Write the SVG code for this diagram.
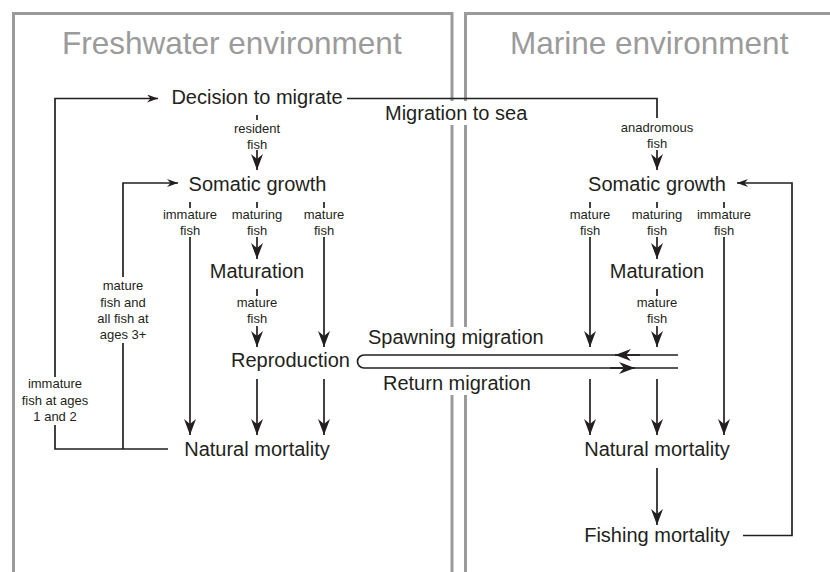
<svg xmlns="http://www.w3.org/2000/svg" width="830" height="572" viewBox="0 0 830 572">
<defs>
<style>
.env{fill:none;stroke:#9b9b9b;stroke-width:3}
.ttl{font-family:"Liberation Sans",Arial,Helvetica,sans-serif;font-size:31.5px;fill:#9b9b9b}
.lbl{font-family:"Liberation Sans",Arial,Helvetica,sans-serif;font-size:20px;fill:#231f20;text-anchor:middle}
.st{text-anchor:start}
.sm{font-family:"Liberation Sans",Arial,Helvetica,sans-serif;font-size:13px;fill:#231f20;text-anchor:middle}
.ln{fill:none;stroke:#231f20;stroke-width:1.7}
.ar{marker-end:url(#big)}
.as{marker-end:url(#small)}
</style>
<marker id="big" viewBox="0 0 16 12" refX="16" refY="6" markerWidth="16" markerHeight="12" markerUnits="userSpaceOnUse" orient="auto">
<path d="M16,6 L0,0 L5,6 L0,12 Z" fill="#231f20"/>
</marker>
<marker id="small" viewBox="0 0 11 8" refX="11" refY="4" markerWidth="11" markerHeight="8" markerUnits="userSpaceOnUse" orient="auto">
<path d="M11,4 L0,0 L3.5,4 L0,8 Z" fill="#231f20"/>
</marker>
</defs>
<rect width="830" height="572" fill="#fff"/>
<g id="environments">
<path class="env" d="M13.5,572 V13.5 H452 V101"/>
<path class="env" d="M452,125 V327 M452,395 V572"/>
<path class="env" d="M830,13.5 H465.5 V101"/>
<path class="env" d="M465.5,125 V327 M465.5,395 V572"/>
<text class="ttl" x="62" y="54">Freshwater environment</text>
<text class="ttl" x="510" y="54">Marine environment</text>
</g>
<g id="connectors">
<path class="ln as" d="M55,377 V98.5 H158"/>
<path class="ln" d="M55,425 V449 H168 M123,343 V449"/>
<path class="ln as" d="M123,277 V183 H178"/>
<path class="ln" d="M347,98.5 H657 V118"/>
<path class="ln" d="M257,115 V120"/>
<path class="ln ar" d="M257,150 V170"/>
<path class="ln ar" d="M657,150 V170"/>
<path class="ln" d="M190,202 V208 M257,202 V208 M324,202 V208 M590,202 V208 M657,202 V208 M724,202 V208"/>
<path class="ln" d="M257,289 V296 M657,289 V296"/>
<path class="ln ar" d="M190,237 V435"/>
<path class="ln ar" d="M257,237 V259"/>
<path class="ln ar" d="M324,237 V347"/>
<path class="ln ar" d="M257,326 V347"/>
<path class="ln ar" d="M257,379 V435"/>
<path class="ln ar" d="M324,379 V435"/>
<path class="ln ar" d="M590,237 V347"/>
<path class="ln ar" d="M657,237 V259"/>
<path class="ln ar" d="M724,237 V435"/>
<path class="ln ar" d="M657,326 V347"/>
<path class="ln ar" d="M590,379 V435"/>
<path class="ln ar" d="M657,379 V435"/>
<path class="ln ar" d="M657,468 V525"/>
<path class="ln as" d="M743,535.5 H792 V183 H737"/>
<path class="ln" d="M678,355 H364 A6.5,6.5 0 0 0 364,368 H678"/>
<path class="ln ar" d="M640,355 H615"/>
<path class="ln ar" d="M610,368 H635"/>
</g>
<g id="decision"><text class="lbl" x="257" y="104">Decision to migrate</text></g>
<g id="migration-to-sea"><text class="lbl st" x="385" y="120">Migration to sea</text></g>
<g id="fw-somatic"><text class="lbl" x="257.5" y="191">Somatic growth</text></g>
<g id="fw-maturation"><text class="lbl" x="257" y="278">Maturation</text></g>
<g id="reproduction"><text class="lbl" x="290.5" y="367">Reproduction</text></g>
<g id="fw-mortality"><text class="lbl" x="257" y="456">Natural mortality</text></g>
<g id="spawning"><text class="lbl st" x="368" y="344">Spawning migration</text></g>
<g id="return"><text class="lbl st" x="383" y="390">Return migration</text></g>
<g id="m-somatic"><text class="lbl" x="657" y="191">Somatic growth</text></g>
<g id="m-maturation"><text class="lbl" x="657" y="278">Maturation</text></g>
<g id="m-mortality"><text class="lbl" x="657" y="456">Natural mortality</text></g>
<g id="fishing"><text class="lbl" x="657" y="542">Fishing mortality</text></g>
<g id="small-labels">
<text class="sm" x="257" y="133">resident</text><text class="sm" x="257" y="149">fish</text>
<text class="sm" x="657" y="132">anadromous</text><text class="sm" x="657" y="148">fish</text>
<text class="sm" x="190" y="219">immature</text><text class="sm" x="190" y="235">fish</text>
<text class="sm" x="257" y="219">maturing</text><text class="sm" x="257" y="235">fish</text>
<text class="sm" x="324" y="219">mature</text><text class="sm" x="324" y="235">fish</text>
<text class="sm" x="590" y="219">mature</text><text class="sm" x="590" y="235">fish</text>
<text class="sm" x="657" y="219">maturing</text><text class="sm" x="657" y="235">fish</text>
<text class="sm" x="724" y="219">immature</text><text class="sm" x="724" y="235">fish</text>
<text class="sm" x="257" y="307">mature</text><text class="sm" x="257" y="323">fish</text>
<text class="sm" x="657" y="307">mature</text><text class="sm" x="657" y="323">fish</text>
<text class="sm" x="123" y="290">mature</text><text class="sm" x="123" y="307">fish and</text><text class="sm" x="123" y="323">all fish at</text><text class="sm" x="123" y="339">ages 3+</text>
<text class="sm" x="55" y="388">immature</text><text class="sm" x="55" y="405">fish at ages</text><text class="sm" x="55" y="421">1 and 2</text>
</g>
</svg>
